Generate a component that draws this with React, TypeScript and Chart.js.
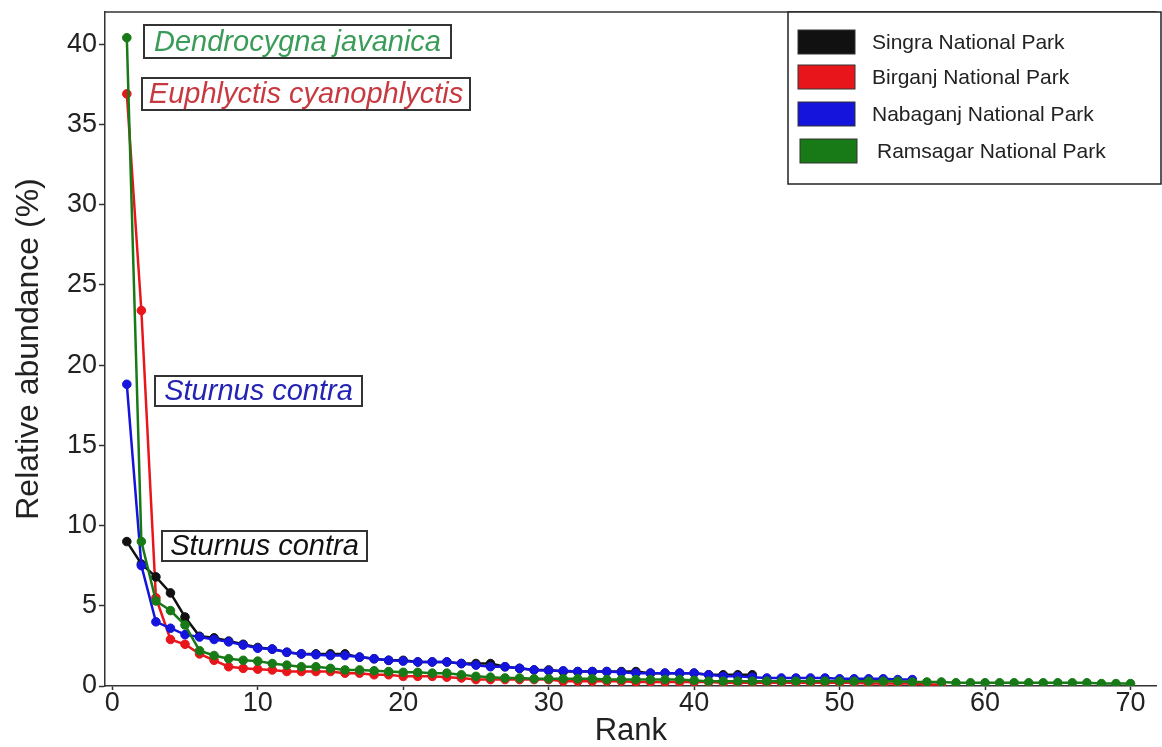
import React, { useEffect, useRef } from "react";
import { Chart, registerables } from "chart.js";

Chart.register(...registerables);

const seriesNames = [
  "Singra National Park",
  "Birganj National Park",
  "Nabaganj National Park",
  "Ramsagar National Park",
];

const singra = [
  9.0, 7.6, 6.8, 5.8, 4.3, 3.1, 3.0, 2.8, 2.6, 2.4,
  2.3, 2.1, 2.0, 2.0, 2.0, 2.0, 1.8, 1.7, 1.6, 1.6,
  1.5, 1.5, 1.5, 1.4, 1.4, 1.4, 1.2, 1.1, 1.0, 1.0,
  0.9, 0.9, 0.9, 0.9, 0.9, 0.9, 0.8, 0.8, 0.8, 0.8,
  0.7, 0.7, 0.7, 0.7,
];

const birganj = [
  36.9, 23.4, 5.5, 2.9, 2.6, 2.0, 1.6, 1.2, 1.1, 1.05,
  1.0, 0.9, 0.9, 0.9, 0.9, 0.8, 0.8, 0.7, 0.7, 0.6,
  0.6, 0.6, 0.55, 0.5, 0.4, 0.4, 0.4, 0.4, 0.4, 0.4,
  0.3, 0.3, 0.3, 0.3, 0.3, 0.25, 0.25, 0.25, 0.25, 0.25,
  0.25, 0.2, 0.2, 0.2, 0.2, 0.2, 0.2, 0.2, 0.2, 0.2,
  0.2, 0.15, 0.15, 0.15, 0.15, 0.1, 0.1,
];

const nabaganj = [
  18.8, 7.5, 4.0, 3.6, 3.2, 3.05, 2.9, 2.75, 2.55, 2.35,
  2.3, 2.1, 2.0, 1.95, 1.9, 1.9, 1.8, 1.7, 1.6, 1.55,
  1.5, 1.5, 1.5, 1.4, 1.3, 1.2, 1.2, 1.1, 1.0, 0.95,
  0.95, 0.9, 0.9, 0.9, 0.85, 0.8, 0.8, 0.8, 0.8, 0.8,
  0.7, 0.6, 0.6, 0.55, 0.5, 0.5, 0.5, 0.5, 0.5, 0.45,
  0.45, 0.45, 0.45, 0.4, 0.4,
];

const ramsagar = [
  40.4, 9.0, 5.3, 4.7, 3.8, 2.2, 1.9, 1.7, 1.6, 1.55,
  1.4, 1.3, 1.2, 1.2, 1.1, 1.0, 1.0, 0.95, 0.9, 0.85,
  0.85, 0.8, 0.8, 0.7, 0.6, 0.55, 0.5, 0.5, 0.45, 0.45,
  0.45, 0.45, 0.45, 0.4, 0.4, 0.4, 0.4, 0.4, 0.4, 0.35,
  0.3, 0.3, 0.3, 0.3, 0.3, 0.3, 0.3, 0.3, 0.3, 0.3,
  0.3, 0.3, 0.3, 0.3, 0.25, 0.25, 0.25, 0.2, 0.2, 0.2,
  0.2, 0.2, 0.2, 0.2, 0.2, 0.2, 0.2, 0.15, 0.15, 0.15,
];

const seriesValues = [singra, birganj, nabaganj, ramsagar];
const seriesColors = ["#111111", "#e8161b", "#1414dc", "#177a17"];
const seriesOrder = [2, 3, 1, 0];

const xTickValues = [0, 10, 20, 30, 40, 50, 60, 70];
const yTickValues = [0, 5, 10, 15, 20, 25, 30, 35, 40];

const annotationTexts = [
  "Dendrocygna javanica",
  "Euphlyctis cyanophlyctis",
  "Sturnus contra",
  "Sturnus contra",
];
const annotationColors = ["#3a9c58", "#c83a42", "#2424b4", "#111111"];

const FONT = "Arial, 'Liberation Sans', Helvetica, sans-serif";

// pixel layout of annotation boxes (left, top, width, height)
const annotationBoxes = [
  [144, 25, 307, 33],
  [142, 78, 328, 32],
  [155, 376, 207, 30],
  [162, 531, 205, 30],
];

const overlayPlugin = {
  id: "overlay",
  afterDraw(chart: any) {
    const ctx = chart.ctx;
    const ca = chart.chartArea;
    ctx.save();
    // top frame line
    ctx.strokeStyle = "#333";
    ctx.lineWidth = 1.5;
    ctx.beginPath();
    ctx.moveTo(ca.left, ca.top);
    ctx.lineTo(ca.right, ca.top);
    ctx.stroke();

    // annotations
    ctx.font = `italic 29px ${FONT}`;
    ctx.textBaseline = "middle";
    ctx.textAlign = "center";
    annotationTexts.forEach((t, i) => {
      const [x, y, w, h] = annotationBoxes[i];
      ctx.fillStyle = "#fff";
      ctx.fillRect(x, y, w, h);
      ctx.strokeStyle = "#333";
      ctx.lineWidth = 2;
      ctx.strokeRect(x, y, w, h);
      ctx.fillStyle = annotationColors[i];
      ctx.fillText(t, x + w / 2, y + h / 2 + 1);
    });

    // legend
    const lx = 788, ly = 12, lw = 373, lh = 172;
    ctx.fillStyle = "#fff";
    ctx.fillRect(lx, ly, lw, lh);
    ctx.strokeStyle = "#222";
    ctx.lineWidth = 1.5;
    ctx.strokeRect(lx, ly, lw, lh);
    ctx.font = `21px ${FONT}`;
    ctx.textAlign = "left";
    ctx.textBaseline = "middle";
    const rowYs = [42, 77, 114, 151];
    seriesNames.forEach((n, i) => {
      const cy = rowYs[i];
      const sx = i === 3 ? 800 : 798;
      ctx.fillStyle = seriesColors[i];
      ctx.fillRect(sx, cy - 12, 57, 24);
      ctx.strokeStyle = "#333";
      ctx.lineWidth = 1;
      ctx.strokeRect(sx, cy - 12, 57, 24);
      ctx.fillStyle = "#222";
      ctx.fillText(n, i === 3 ? 877 : 872, cy + 1);
    });
    ctx.restore();
  },
};

export default function App() {
  const ref = useRef<HTMLCanvasElement>(null);

  useEffect(() => {
    if (!ref.current) return;
    const datasets = seriesValues.map((vals, i) => ({
      label: seriesNames[i],
      data: vals.map((v, k) => ({ x: k + 1, y: v })),
      borderColor: seriesColors[i],
      backgroundColor: seriesColors[i],
      pointBackgroundColor: seriesColors[i],
      pointBorderColor: seriesColors[i],
      pointRadius: 4.3,
      pointBorderWidth: 1,
      borderWidth: 2.5,
      tension: 0,
      order: seriesOrder[i],
    }));

    const chart = new Chart(ref.current, {
      type: "line",
      data: { datasets },
      plugins: [overlayPlugin],
      options: {
        animation: false,
        responsive: false,
        devicePixelRatio: 1,
        layout: { padding: { top: 12, right: 2, left: 0, bottom: 0 } },
        plugins: {
          legend: { display: false },
          tooltip: { enabled: false },
        },
        scales: {
          x: {
            type: "linear",
            min: -0.5,
            max: 71.8,
            afterFit: (s: any) => {
              s.height = 61;
              s.paddingLeft = 0;
              s.paddingRight = 0;
            },
            afterBuildTicks: (s: any) => {
              s.ticks = xTickValues.map((v) => ({ value: v }));
            },
            ticks: {
              color: "#222",
              font: { family: FONT, size: 27, lineHeight: 1.0 },
              padding: 0,
              maxRotation: 0,
              autoSkip: false,
            },
            grid: {
              drawOnChartArea: false,
              drawTicks: true,
              tickLength: 4,
              tickColor: "#333",
              tickWidth: 1.5,
            },
            border: { display: true, color: "#333", width: 1.5 },
            title: {
              display: true,
              text: "Rank",
              color: "#222",
              font: { family: FONT, size: 31, lineHeight: 1.0 },
              padding: { top: 0, bottom: 0 },
            },
          },
          y: {
            type: "linear",
            min: 0,
            max: 42,
            afterFit: (s: any) => {
              s.width = 105;
              s.paddingTop = 0;
              s.paddingBottom = 0;
            },
            afterBuildTicks: (s: any) => {
              s.ticks = yTickValues.map((v) => ({ value: v }));
            },
            ticks: {
              color: "#222",
              font: { family: FONT, size: 27 },
              padding: 2,
              autoSkip: false,
            },
            grid: {
              drawOnChartArea: false,
              drawTicks: true,
              tickLength: 6,
              tickColor: "#333",
              tickWidth: 1.5,
            },
            border: { display: true, color: "#333", width: 1.5 },
            title: {
              display: true,
              text: "Relative abundance (%)",
              color: "#222",
              font: { family: FONT, size: 32 },
              padding: { top: 10, bottom: 0 },
            },
          },
        },
      },
    } as any);
    return () => chart.destroy();
  }, []);

  return (
    <div style={{ position: "absolute", left: 0, top: 0, width: 1162, height: 747, background: "#fff" }}>
      <canvas ref={ref} width={1162} height={747} />
    </div>
  );
}
